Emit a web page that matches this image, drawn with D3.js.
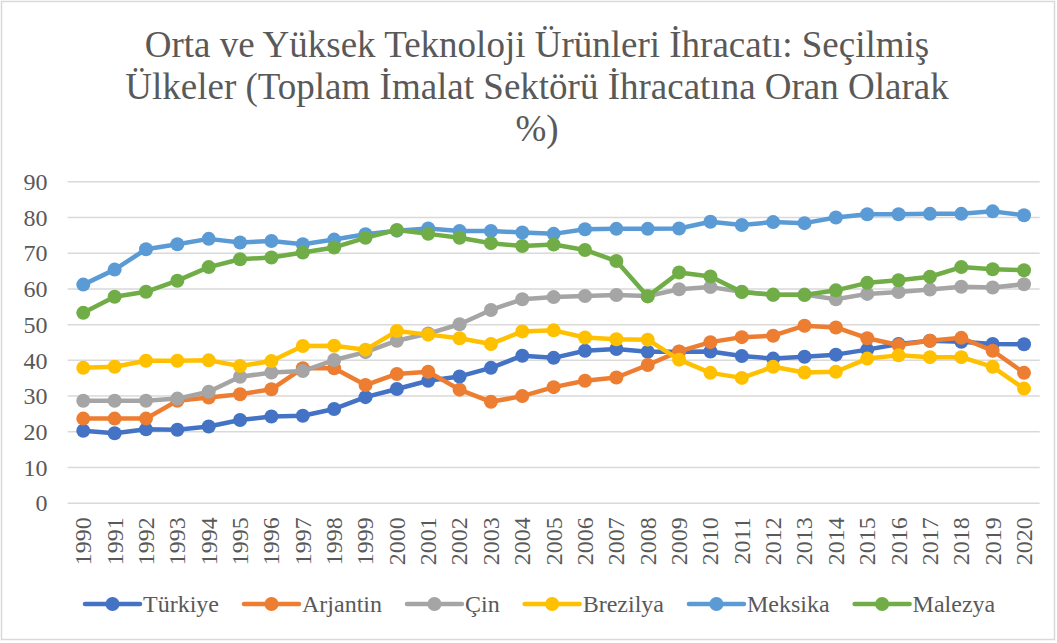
<!DOCTYPE html>
<html>
<head>
<meta charset="utf-8">
<script src="https://cdn.jsdelivr.net/npm/d3@7"></script>
<style>
  body { margin: 0; background: #fff; }
  text { font-family: "Liberation Serif", "Times New Roman", serif; fill: #595959; }
</style>
</head>
<body>
<div id="graphic"></div>
<script>
var years = d3.range(1990, 2021);

var turkiye  = [20.3, 19.6, 20.7, 20.6, 21.5, 23.3, 24.3, 24.5, 26.4, 29.7, 32.0, 34.3, 35.5, 37.9, 41.3, 40.7, 42.7, 43.2, 42.4, 42.4, 42.5, 41.2, 40.5, 41.0, 41.6, 43.0, 44.6, 45.5, 45.2, 44.6, 44.5];
var arjantin = [23.7, 23.7, 23.7, 28.7, 29.6, 30.5, 31.9, 37.8, 37.8, 33.1, 36.2, 36.8, 31.8, 28.4, 30.0, 32.5, 34.3, 35.2, 38.7, 42.5, 45.1, 46.5, 46.9, 49.7, 49.2, 46.2, 44.3, 45.5, 46.3, 42.7, 36.5];
var cin      = [28.7, 28.7, 28.7, 29.3, 31.2, 35.4, 36.6, 37.0, 40.1, 42.3, 45.5, 47.5, 50.1, 54.1, 57.1, 57.7, 58.0, 58.3, 58.0, 59.9, 60.5, 59.2, 58.3, 58.4, 57.1, 58.6, 59.1, 59.8, 60.6, 60.4, 61.3];
var brezilya = [37.9, 38.2, 39.9, 39.9, 40.0, 38.4, 39.8, 44.0, 44.1, 43.0, 48.2, 47.2, 46.2, 44.6, 48.1, 48.4, 46.4, 45.9, 45.8, 40.2, 36.5, 35.1, 38.2, 36.6, 36.8, 40.5, 41.4, 40.9, 40.9, 38.2, 32.1];
var meksika  = [61.2, 65.4, 71.1, 72.5, 74.0, 73.0, 73.4, 72.5, 73.8, 75.3, 76.3, 76.9, 76.2, 76.2, 75.8, 75.4, 76.7, 76.8, 76.8, 76.9, 78.8, 77.9, 78.7, 78.4, 80.0, 80.9, 80.9, 81.0, 81.0, 81.7, 80.6];
var malezya  = [53.3, 57.8, 59.2, 62.3, 66.1, 68.3, 68.8, 70.2, 71.6, 74.3, 76.5, 75.4, 74.3, 72.8, 72.0, 72.4, 70.9, 67.8, 57.9, 64.6, 63.5, 59.1, 58.4, 58.3, 59.6, 61.7, 62.4, 63.4, 66.1, 65.5, 65.2];

var seriesNames  = ["Türkiye", "Arjantin", "Çin", "Brezilya", "Meksika", "Malezya"];
var seriesValues = [turkiye, arjantin, cin, brezilya, meksika, malezya];
var seriesColors = ["#4472C4", "#ED7D31", "#A5A5A5", "#FFC000", "#5B9BD5", "#70AD47"];

var yTicks = d3.range(0, 91, 10);
var titleLines = ["Orta ve Yüksek Teknoloji Ürünleri İhracatı: Seçilmiş",
                  "Ülkeler (Toplam İmalat Sektörü İhracatına Oran Olarak",
                  "%)"];

var width = 1057,
    height = 643;

var plot = { left: 67.6, right: 1039.7, top: 181.7, bottom: 503.3 };

var svg = d3.select("#graphic")
    .append("svg")
    .attr("width", width)
    .attr("height", height);

svg.append("rect")
    .attr("x", 1.5).attr("y", 1.5)
    .attr("width", 1053).attr("height", 638)
    .attr("fill", "#fff")
    .attr("stroke", "#D9D9D9")
    .attr("stroke-width", 1.5);

// title
svg.append("text")
    .attr("text-anchor", "middle")
    .attr("font-size", 37)
    .selectAll("tspan")
    .data(titleLines)
    .enter().append("tspan")
    .attr("x", 537)
    .attr("y", function(d, i) { return 57 + i * 42; })
    .text(function(d) { return d; });

var x = d3.scaleBand()
    .domain(years)
    .range([plot.left, plot.right]);

var y = d3.scaleLinear()
    .domain([0, 90])
    .range([plot.bottom, plot.top]);

var cx = function(yr) { return x(yr) + x.bandwidth() / 2; };

// gridlines
svg.append("g")
    .selectAll("line")
    .data(yTicks)
    .enter().append("line")
    .attr("x1", plot.left)
    .attr("x2", plot.right)
    .attr("y1", function(d) { return y(d); })
    .attr("y2", function(d) { return y(d); })
    .attr("stroke", "#D9D9D9")
    .attr("stroke-width", 1.5);

// y axis labels
svg.append("g")
    .attr("transform", "translate(" + (plot.left - 20) + ",0)")
    .call(d3.axisLeft(y).tickValues(yTicks).tickSize(0).tickPadding(0))
    .call(function(g) { g.select(".domain").remove(); })
    .selectAll("text")
    .attr("font-size", 24)
    .attr("fill", "#595959");

// x axis labels
svg.append("g")
    .attr("transform", "translate(0," + (plot.bottom + 14) + ")")
    .call(d3.axisBottom(x).tickSize(0).tickPadding(0))
    .call(function(g) { g.select(".domain").remove(); })
    .selectAll("text")
    .attr("font-size", 24)
    .attr("fill", "#595959")
    .attr("text-anchor", "end")
    .attr("dy", "0.33em")
    .attr("transform", "rotate(-90)");

var line = d3.line()
    .x(function(d, i) { return cx(years[i]); })
    .y(function(d) { return y(d); });

var series = svg.append("g")
    .selectAll("g")
    .data(seriesValues)
    .enter().append("g");

series.append("path")
    .attr("d", line)
    .attr("fill", "none")
    .attr("stroke", function(d, i) { return seriesColors[i]; })
    .attr("stroke-width", 4.5)
    .attr("stroke-linejoin", "round");

series.each(function(vals, si) {
  d3.select(this).selectAll("circle")
      .data(vals)
      .enter().append("circle")
      .attr("cx", function(d, i) { return cx(years[i]); })
      .attr("cy", function(d) { return y(d); })
      .attr("r", 7)
      .attr("fill", seriesColors[si]);
});

// legend
var legend = svg.append("g");
var lx = 85, ly = 604;
seriesNames.forEach(function(name, i) {
  var item = legend.append("g").attr("transform", "translate(" + lx + "," + ly + ")");
  item.append("line")
      .attr("x1", 0).attr("x2", 55)
      .attr("stroke", seriesColors[i])
      .attr("stroke-width", 4.5)
      .attr("stroke-linecap", "round");
  item.append("circle")
      .attr("cx", 27.5).attr("r", 7)
      .attr("fill", seriesColors[i]);
  var t = item.append("text")
      .attr("x", 58)
      .attr("dy", "0.35em")
      .attr("font-size", 24)
      .text(name);
  lx += 58 + t.node().getComputedTextLength() + 25;
});
</script>
</body>
</html>
